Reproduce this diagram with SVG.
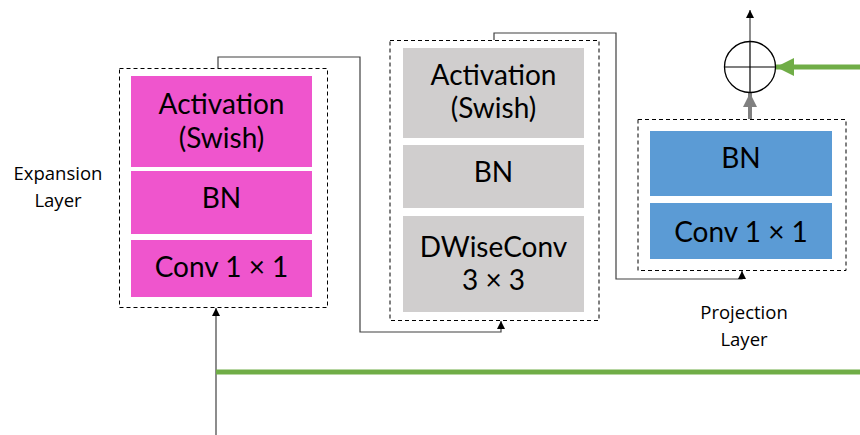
<svg xmlns="http://www.w3.org/2000/svg" width="860" height="435" viewBox="0 0 860 435">
<style>
.dash{fill:none;stroke:#000;stroke-width:1;stroke-dasharray:4,3}
.t{font-family:Lato,"Open Sans",sans-serif;font-size:28px;fill:#000;text-anchor:middle}
.s{font-family:"Open Sans",Lato,sans-serif;font-size:18.5px;fill:#000;text-anchor:middle}
.pink{fill:#EF55CD}
.gray{fill:#D0CECE}
.blue{fill:#5B9BD5}
.c{fill:none;stroke:#404040;stroke-width:1.2}
</style>
<defs>
<marker id="ah" viewBox="0 0 10 10" refX="10" refY="5" markerWidth="8" markerHeight="8" markerUnits="userSpaceOnUse" orient="auto"><path d="M0,0L10,5L0,10z" fill="#000"/></marker>
<marker id="ag" viewBox="0 0 10 10" refX="10" refY="5" markerWidth="4" markerHeight="3.5" orient="auto"><path d="M0,0L10,5L0,10z" fill="#808080"/></marker>
<marker id="agr" viewBox="0 0 10 10" refX="10" refY="5" markerWidth="3.6" markerHeight="3.6" orient="auto"><path d="M0,0L10,5L0,10z" fill="#70AD47"/></marker>
</defs>
<g id="connectors">
<line x1="216" y1="435" x2="216" y2="308" class="c" stroke="#000" marker-end="url(#ah)"/>
<line x1="216" y1="372" x2="860" y2="372" stroke="#70AD47" stroke-width="5"/>
<polyline points="218,68 218,57 360,57 360,332 501,332 501,321" class="c" marker-end="url(#ah)"/>
<polyline points="494,40 494,33 616,33 616,279 742,279 742,271" class="c" marker-end="url(#ah)"/>
<line x1="750" y1="119" x2="750" y2="93" stroke="#808080" stroke-width="4" marker-end="url(#ag)"/>
<line x1="860" y1="67" x2="776" y2="67" stroke="#70AD47" stroke-width="5" marker-end="url(#agr)"/>
<line x1="750" y1="41" x2="750" y2="10" class="c" stroke="#000" marker-end="url(#ah)"/>
</g>
<g id="expansion">
<rect x="119.5" y="68.5" width="208" height="239" class="dash"/>
<rect x="131" y="76" width="181" height="91" class="pink"/>
<rect x="131" y="171" width="181" height="63" class="pink"/>
<rect x="131" y="240" width="181" height="57" class="pink"/>
<text x="221.5" y="114" class="t">Activation</text>
<text x="221.5" y="148" class="t">(Swish)</text>
<text x="221.5" y="208" class="t">BN</text>
<text x="221.5" y="277" class="t">Conv 1 × 1</text>
<text x="58" y="180" class="s">Expansion</text>
<text x="58" y="207" class="s">Layer</text>
</g>
<g id="depthwise">
<rect x="390" y="40.5" width="209" height="280" class="dash"/>
<rect x="403" y="48" width="181" height="90" class="gray"/>
<rect x="403" y="145" width="181" height="63" class="gray"/>
<rect x="403" y="216" width="181" height="96" class="gray"/>
<text x="493.5" y="85" class="t">Activation</text>
<text x="493.5" y="118" class="t">(Swish)</text>
<text x="493.5" y="182" class="t">BN</text>
<text x="493.5" y="257" class="t">DWiseConv</text>
<text x="493.5" y="290" class="t">3 × 3</text>
</g>
<g id="projection">
<rect x="638" y="119.5" width="208" height="151" class="dash"/>
<rect x="650" y="131" width="182" height="65" class="blue"/>
<rect x="650" y="203" width="182" height="56" class="blue"/>
<text x="741" y="168" class="t">BN</text>
<text x="741" y="242" class="t">Conv 1 × 1</text>
<text x="744" y="319" class="s">Projection</text>
<text x="744" y="346" class="s">Layer</text>
</g>
<g id="add">
<circle cx="750" cy="67" r="25.5" fill="#fff" stroke="#000" stroke-width="1.3"/>
<line x1="724.5" y1="67" x2="775.5" y2="67" stroke="#000" stroke-width="1.2"/>
<line x1="750" y1="41.5" x2="750" y2="92.5" stroke="#000" stroke-width="1.2"/>
</g>
</svg>
